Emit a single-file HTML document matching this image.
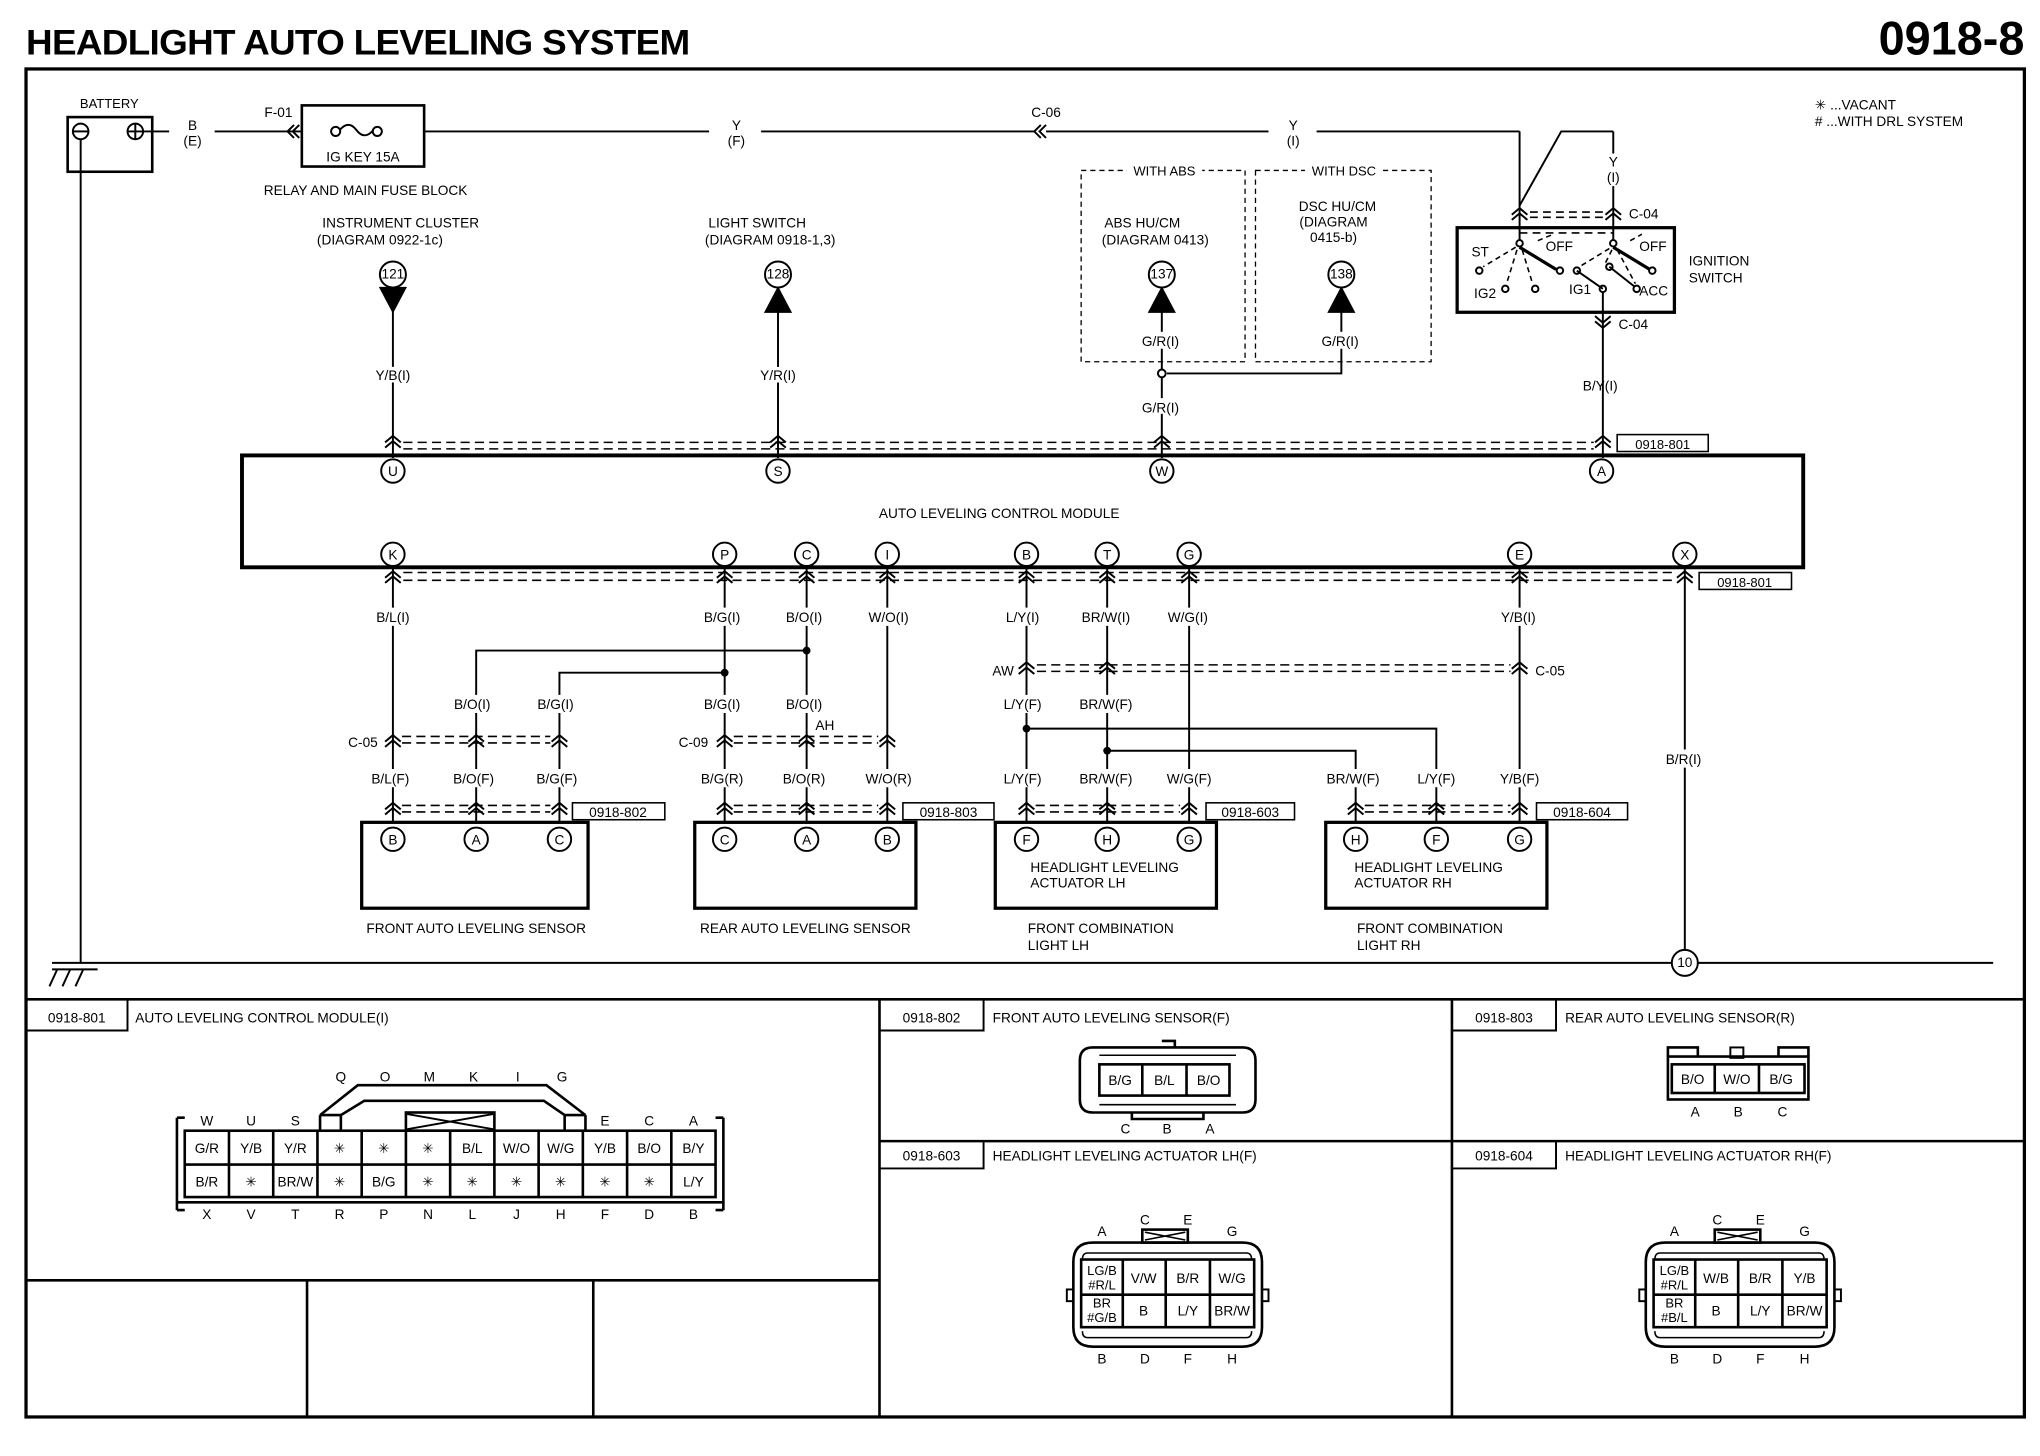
<!DOCTYPE html>
<html><head><meta charset="utf-8"><style>
html,body{margin:0;padding:0;background:#fff}
svg{display:block}
text{font-family:"Liberation Sans",Arial,sans-serif;font-size:10.5px;fill:#000}
.b{font-weight:bold}
.m{text-anchor:middle}
.e{text-anchor:end}
</style></head><body>
<svg width="2040" height="1456" viewBox="0 0 1568 1119" preserveAspectRatio="none" xmlns="http://www.w3.org/2000/svg">
<defs>
<path id="cu" d="M-6 2 L0 -3 L6 2 M-6 6 L0 1 L6 6" fill="none" stroke="#000" stroke-width="1.5"/>
<path id="cd" d="M-6 -2 L0 3 L6 -2 M-6 -6 L0 -1 L6 -6" fill="none" stroke="#000" stroke-width="1.5"/>
</defs>
<rect width="1568" height="1119" fill="#fff"/>
<text x="20" y="42" class="b" style="font-size:27px;letter-spacing:-0.5px" textLength="510" lengthAdjust="spacingAndGlyphs">HEADLIGHT AUTO LEVELING SYSTEM</text>
<text x="1556" y="42" class="b e" style="font-size:36px">0918-8</text>

<g fill="none" stroke="#000">
<rect x="20" y="53" width="1536" height="1036" stroke-width="2.5"/>
<line x1="20" y1="768" x2="1556" y2="768" stroke-width="2"/>
<line x1="676" y1="768" x2="676" y2="1089" stroke-width="2"/>
<line x1="1116" y1="768" x2="1116" y2="1089" stroke-width="2"/>
<line x1="676" y1="877" x2="1556" y2="877" stroke-width="2"/>
<line x1="20" y1="984" x2="676" y2="984" stroke-width="2"/>
<line x1="236" y1="984" x2="236" y2="1089" stroke-width="2"/>
<line x1="456" y1="984" x2="456" y2="1089" stroke-width="2"/>
<path d="M20 792 H98 V768 M676 792 H756 V768 M1116 792 H1196 V768 M676 898 H756 V877 M1116 898 H1196 V877" stroke-width="1.5"/>

<rect x="52" y="90" width="65" height="42" stroke-width="2"/>
<circle cx="62" cy="101" r="6" stroke-width="1.5"/><line x1="56" y1="101" x2="68" y2="101" stroke-width="1.5"/>
<circle cx="104" cy="101" r="6" stroke-width="1.5"/><path d="M98 101 H110 M104 95 V107" stroke-width="1.5"/>
<line x1="110" y1="101" x2="130" y2="101" stroke-width="1.5"/>
<line x1="62" y1="107" x2="62" y2="740" stroke-width="1.5"/>
<line x1="165" y1="101" x2="232" y2="101" stroke-width="1.5"/>
<path d="M226 96 L221 101 L226 106 M230 96 L225 101 L230 106" stroke-width="1.5"/>
<rect x="232" y="81" width="94" height="47" stroke-width="2"/>
<circle cx="258" cy="101" r="3.5" stroke-width="1.5"/><circle cx="290" cy="101" r="3.5" stroke-width="1.5"/>
<path d="M261 100 Q268 92 274 100 Q280 108 287 100" stroke-width="1.5"/>
<line x1="326" y1="101" x2="545" y2="101" stroke-width="1.5"/>
<line x1="585" y1="101" x2="795" y2="101" stroke-width="1.5"/>
<path d="M800 96 L795 101 L800 106 M804 96 L799 101 L804 106" stroke-width="1.5"/>
<line x1="804" y1="101" x2="975" y2="101" stroke-width="1.5"/>
<line x1="1012" y1="101" x2="1168" y2="101" stroke-width="1.5"/>
<line x1="1168" y1="101" x2="1168" y2="185" stroke-width="1.5"/>
<path d="M1240 101 H1200 L1168 158" stroke-width="1.5"/>
<line x1="1240" y1="101" x2="1240" y2="118" stroke-width="1.5"/>
<line x1="1240" y1="143" x2="1240" y2="185" stroke-width="1.5"/>
<use href="#cu" x="1168" y="163"/><use href="#cu" x="1240" y="163"/>
<path d="M1176 163 H1233 M1176 167 H1233" stroke-width="1.2" stroke-dasharray="6,4"/>
<rect x="1120" y="175" width="167" height="65" stroke-width="2.5"/>
<path d="M1168 179 H1240" stroke-width="1.2" stroke-dasharray="6,4"/>
<circle cx="1168" cy="187" r="2.5" stroke-width="1.5"/><circle cx="1240" cy="187" r="2.5" stroke-width="1.5"/>
<path d="M1168 190 L1196 207 M1240 190 L1268 207" stroke-width="2.5"/>
<circle cx="1199" cy="208" r="2.5" stroke-width="1.5"/><circle cx="1270" cy="208" r="2.5" stroke-width="1.5"/>
<circle cx="1137" cy="208" r="2.5" stroke-width="1.5"/><circle cx="1212" cy="208" r="2.5" stroke-width="1.5"/>
<circle cx="1157" cy="222" r="2.5" stroke-width="1.5"/><circle cx="1180" cy="222" r="2.5" stroke-width="1.5"/>
<circle cx="1232" cy="222" r="2.5" stroke-width="1.5"/><circle cx="1237" cy="205" r="2.5" stroke-width="1.5"/><circle cx="1258" cy="222" r="2.5" stroke-width="1.5"/>
<path d="M1212 208 L1232 222 M1237 205 L1256 220" stroke-width="1.5"/>
<path d="M1165 190 L1140 205 M1166 192 L1158 218 M1170 192 L1178 218 M1182 185 L1194 180 M1237 191 L1214 205 M1239 192 L1234 202 M1243 192 L1257 218 M1253 185 L1262 180" stroke-width="1.2" stroke-dasharray="4,3"/>
<line x1="1232" y1="225" x2="1232" y2="352" stroke-width="1.5"/>
<use href="#cd" x="1232" y="249"/>

<circle cx="302" cy="211" r="10" stroke-width="1.5"/>
<path d="M292 221 H312 L302 240 Z" fill="#000" stroke-width="1"/>
<line x1="302" y1="221" x2="302" y2="282" stroke-width="1.5"/><line x1="302" y1="294" x2="302" y2="352" stroke-width="1.5"/>
<circle cx="598" cy="211" r="10" stroke-width="1.5"/>
<path d="M588 240 H608 L598 221 Z" fill="#000" stroke-width="1"/>
<line x1="598" y1="240" x2="598" y2="282" stroke-width="1.5"/><line x1="598" y1="294" x2="598" y2="352" stroke-width="1.5"/>
<rect x="831" y="131" width="126" height="147" stroke-width="1" stroke-dasharray="4,3"/>
<rect x="965" y="131" width="135" height="147" stroke-width="1" stroke-dasharray="4,3"/>
<rect x="866" y="126" width="58" height="10" fill="#fff" stroke="none"/>
<rect x="1003" y="126" width="60" height="10" fill="#fff" stroke="none"/>
<circle cx="893" cy="211" r="10" stroke-width="1.5"/>
<path d="M883 240 H903 L893 221 Z" fill="#000"/>
<circle cx="1031" cy="211" r="10" stroke-width="1.5"/>
<path d="M1021 240 H1041 L1031 221 Z" fill="#000"/>
<line x1="893" y1="240" x2="893" y2="255" stroke-width="1.5"/><line x1="893" y1="268" x2="893" y2="306" stroke-width="1.5"/>
<line x1="893" y1="318" x2="893" y2="352" stroke-width="1.5"/>
<line x1="1031" y1="240" x2="1031" y2="255" stroke-width="1.5"/>
<path d="M1031 268 V287 H897" stroke-width="1.5"/>
<circle cx="893" cy="287" r="3" fill="#fff" stroke-width="1.5"/>
<use href="#cu" x="302" y="338"/><use href="#cu" x="598" y="338"/><use href="#cu" x="893" y="338"/><use href="#cu" x="1232" y="338"/>
<path d="M310 340 H1225 M310 345 H1225" stroke-width="1.2" stroke-dasharray="7,4"/>
<rect x="1243" y="334" width="70" height="13" stroke-width="1.2"/>
<rect x="186" y="350" width="1200" height="86" stroke-width="3"/>
<g stroke-width="1.5" fill="#fff">
<circle cx="302" cy="362" r="9"/><circle cx="598" cy="362" r="9"/><circle cx="893" cy="362" r="9"/><circle cx="1231" cy="362" r="9"/>
<circle cx="302" cy="426" r="9"/><circle cx="557" cy="426" r="9"/><circle cx="620" cy="426" r="9"/><circle cx="682" cy="426" r="9"/>
<circle cx="789" cy="426" r="9"/><circle cx="851" cy="426" r="9"/><circle cx="914" cy="426" r="9"/><circle cx="1168" cy="426" r="9"/><circle cx="1295" cy="426" r="9"/>
</g>
<path d="M310 440 H1288 M310 446 H1288" stroke-width="1.2" stroke-dasharray="7,4"/>
<rect x="1306" y="440" width="71" height="13" stroke-width="1.2"/>
<g stroke-width="1.5">
<path d="M302 436 V467 M302 481 V591 M302 605 V633"/>
<path d="M557 436 V467 M557 481 V534 M557 548 V591 M557 605 V633"/>
<path d="M620 436 V467 M620 481 V534 M620 548 V591 M620 605 V633"/>
<path d="M682 436 V467 M682 481 V591 M682 605 V633"/>
<path d="M789 436 V467 M789 481 V534 M789 548 V591 M789 605 V633"/>
<path d="M851 436 V467 M851 481 V534 M851 548 V591 M851 605 V633"/>
<path d="M914 436 V467 M914 481 V591 M914 605 V633"/>
<path d="M1168 436 V467 M1168 481 V591 M1168 605 V633"/>
<path d="M1295 436 V576 M1295 590 V730"/>
<path d="M620 500 H366 V534 M366 548 V591 M366 605 V633"/>
<path d="M557 517 H430 V534 M430 548 V591 M430 605 V633"/>
<path d="M789 560 H1104 V591 M1104 605 V633"/>
<path d="M851 577 H1042 V591 M1042 605 V633"/>
<path d="M40 740 H1285 M1305 740 H1532"/>
<path d="M40 745 H75 M44 745 L38 758 M54 745 L48 758 M64 745 L58 758"/>
</g>
<g fill="#000"><circle cx="620" cy="500" r="2.5"/><circle cx="557" cy="517" r="2.5"/><circle cx="789" cy="560" r="2.5"/><circle cx="851" cy="577" r="2.5"/></g>
<circle cx="1295" cy="740" r="10" stroke-width="1.5" fill="#fff"/>
<use href="#cu" x="302" y="442"/><use href="#cu" x="557" y="442"/><use href="#cu" x="620" y="442"/><use href="#cu" x="682" y="442"/><use href="#cu" x="789" y="442"/><use href="#cu" x="851" y="442"/><use href="#cu" x="914" y="442"/><use href="#cu" x="1168" y="442"/><use href="#cu" x="1295" y="442"/>
<use href="#cu" x="789" y="512"/><use href="#cu" x="851" y="512"/><use href="#cu" x="1168" y="512"/>
<path d="M797 511 H1161 M797 516 H1161" stroke-width="1.2" stroke-dasharray="7,4"/>
<use href="#cu" x="302" y="568"/><use href="#cu" x="366" y="568"/><use href="#cu" x="430" y="568"/>
<path d="M309 566 H423 M309 571 H423" stroke-width="1.2" stroke-dasharray="7,4"/>
<use href="#cu" x="557" y="568"/><use href="#cu" x="620" y="568"/><use href="#cu" x="682" y="568"/>
<path d="M564 566 H675 M564 571 H675" stroke-width="1.2" stroke-dasharray="7,4"/>
<use href="#cu" x="302" y="620"/><use href="#cu" x="366" y="620"/><use href="#cu" x="430" y="620"/>
<path d="M309 619 H423 M309 624 H423" stroke-width="1.2" stroke-dasharray="7,4"/>
<use href="#cu" x="557" y="620"/><use href="#cu" x="620" y="620"/><use href="#cu" x="682" y="620"/>
<path d="M564 619 H675 M564 624 H675" stroke-width="1.2" stroke-dasharray="7,4"/>
<use href="#cu" x="789" y="620"/><use href="#cu" x="851" y="620"/><use href="#cu" x="914" y="620"/>
<path d="M796 619 H907 M796 624 H907" stroke-width="1.2" stroke-dasharray="7,4"/>
<use href="#cu" x="1042" y="620"/><use href="#cu" x="1104" y="620"/><use href="#cu" x="1168" y="620"/>
<path d="M1049 619 H1161 M1049 624 H1161" stroke-width="1.2" stroke-dasharray="7,4"/>
<rect x="440" y="617" width="71" height="13" stroke-width="1.2"/>
<rect x="694" y="617" width="70" height="13" stroke-width="1.2"/>
<rect x="927" y="617" width="68" height="13" stroke-width="1.2"/>
<rect x="1181" y="617" width="70" height="13" stroke-width="1.2"/>
<rect x="278" y="632" width="174" height="66" stroke-width="2.5"/>
<rect x="534" y="632" width="170" height="66" stroke-width="2.5"/>
<rect x="765" y="632" width="170" height="66" stroke-width="2.5"/>
<rect x="1019" y="632" width="170" height="66" stroke-width="2.5"/>
<g stroke-width="1.5" fill="#fff">
<circle cx="302" cy="645" r="9"/><circle cx="366" cy="645" r="9"/><circle cx="430" cy="645" r="9"/>
<circle cx="557" cy="645" r="9"/><circle cx="620" cy="645" r="9"/><circle cx="682" cy="645" r="9"/>
<circle cx="789" cy="645" r="9"/><circle cx="851" cy="645" r="9"/><circle cx="914" cy="645" r="9"/>
<circle cx="1042" cy="645" r="9"/><circle cx="1104" cy="645" r="9"/><circle cx="1168" cy="645" r="9"/>
</g>

<g stroke-width="2">
<rect x="142" y="869" width="408" height="51"/>
<line x1="142" y1="895" x2="550" y2="895"/>
<path d="M136 859 V930 M142 859 H136 M136 930 H142 M556 859 V930 M550 859 H556 M556 930 H550"/>
<path d="M136 924 H556"/>
<path d="M176 869V920 M210 869V920 M244 869V920 M278 869V920 M312 869V920 M346 869V920 M380 869V920 M414 869V920 M448 869V920 M482 869V920 M516 869V920"/>
<path d="M246 857 L275 834 H420 L450 857 M246 857 V869 M450 857 V869 M262 857 V869 M434 857 V869 M262 857 L280 846 H418 L434 857 M246 857 H262 M434 857 H450"/>
<rect x="312" y="855" width="68" height="14"/>
<path d="M312 856 L380 868 M312 868 L380 856" stroke-width="1.5"/>
</g>
<g stroke-width="2">
<path d="M840 805 H955 Q965 805 965 815 V845 Q965 855 955 855 H840 Q830 855 830 845 V815 Q830 805 840 805 Z"/>
<path d="M845 811 H950 M845 849 H950" stroke-width="1.2"/>
<rect x="845" y="818" width="100" height="24"/>
<path d="M878 818V842 M912 818V842"/>
<path d="M870 855 V860 H925 V855 M893 800 H903 V805"/>
</g>
<g stroke-width="2">
<rect x="1282" y="812" width="108" height="33"/>
<rect x="1285" y="818" width="102" height="22"/>
<path d="M1318 818V840 M1352 818V840"/>
<path d="M1282 812 V805 H1305 V812 M1367 812 V805 H1390 V812"/>
<rect x="1330" y="805" width="10" height="8" stroke-width="1.5"/>
</g>
<g id="act" stroke-width="2">
<path d="M840 955 H955 Q970 955 970 970 V1020 Q970 1035 955 1035 H840 Q825 1035 825 1020 V970 Q825 955 840 955 Z"/>
<path d="M836 963 H958 Q962 963 962 968 M836 963 Q832 963 832 968 M836 1028 H958 Q962 1028 962 1023 M836 1028 Q832 1028 832 1023" stroke-width="1.2"/>
<rect x="831" y="968" width="133" height="52"/>
<path d="M831 995 H964 M863 968V1020 M896 968V1020 M930 968V1020"/>
<rect x="878" y="945" width="35" height="10"/>
<path d="M880 947 L911 953 M880 953 L911 947" stroke-width="1.2"/>
<rect x="820" y="991" width="5" height="9" stroke-width="1.5"/><rect x="970" y="991" width="5" height="9" stroke-width="1.5"/>
</g>
<use href="#act" x="440" y="0"/>
</g>

<text x="84" y="83" class="m" style="font-size:10px">BATTERY</text>
<text x="148" y="100" class="m">B</text><text x="148" y="112" class="m">(E)</text>
<text x="214" y="90" class="m">F-01</text>
<text x="279" y="124" class="m">IG KEY 15A</text>
<text x="281" y="150" class="m">RELAY AND MAIN FUSE BLOCK</text>
<text x="566" y="100" class="m">Y</text><text x="566" y="112" class="m">(F)</text>
<text x="804" y="90" class="m">C-06</text>
<text x="994" y="100" class="m">Y</text><text x="994" y="112" class="m">(I)</text>
<text x="1240" y="128" class="m">Y</text><text x="1240" y="140" class="m">(I)</text>
<text x="1252" y="168">C-04</text>
<text x="1244" y="253">C-04</text>
<text x="1131" y="197">ST</text><text x="1188" y="193">OFF</text><text x="1260" y="193">OFF</text>
<text x="1133" y="229">IG2</text><text x="1206" y="226">IG1</text><text x="1260" y="227">ACC</text>
<text x="1298" y="204">IGNITION</text><text x="1298" y="217">SWITCH</text>
<text x="1395" y="84">✳ ...VACANT</text><text x="1395" y="97"># ...WITH DRL SYSTEM</text>
<text x="308" y="175" class="m">INSTRUMENT CLUSTER</text><text x="292" y="188" class="m">(DIAGRAM 0922-1c)</text>
<text x="582" y="175" class="m">LIGHT SWITCH</text><text x="592" y="188" class="m">(DIAGRAM 0918-1,3)</text>
<g style="font-size:9px"><text x="302" y="214" class="m">121</text><text x="598" y="214" class="m">128</text><text x="893" y="214" class="m">137</text><text x="1031" y="214" class="m">138</text><text x="1295" y="743" class="m">10</text></g>
<text x="895" y="135" class="m" style="font-size:10px">WITH ABS</text><text x="1033" y="135" class="m" style="font-size:10px">WITH DSC</text>
<text x="878" y="175" class="m">ABS HU/CM</text><text x="888" y="188" class="m">(DIAGRAM 0413)</text>
<text x="1028" y="162" class="m">DSC HU/CM</text><text x="1025" y="174" class="m">(DIAGRAM</text><text x="1025" y="186" class="m">0415-b)</text>
<text x="892" y="266" class="m">G/R(I)</text><text x="1030" y="266" class="m">G/R(I)</text>
<text x="302" y="292" class="m">Y/B(I)</text><text x="598" y="292" class="m">Y/R(I)</text>
<text x="892" y="317" class="m">G/R(I)</text><text x="1230" y="300" class="m">B/Y(I)</text>
<text x="1278" y="345" class="m" style="font-size:10px">0918-801</text>
<text x="1341" y="451" class="m" style="font-size:10px">0918-801</text>
<g style="font-size:9.5px" class="m">
<text x="302" y="366" class="m">U</text><text x="598" y="366" class="m">S</text><text x="893" y="366" class="m">W</text><text x="1231" y="366" class="m">A</text>
<text x="302" y="430" class="m">K</text><text x="557" y="430" class="m">P</text><text x="620" y="430" class="m">C</text><text x="682" y="430" class="m">I</text><text x="789" y="430" class="m">B</text><text x="851" y="430" class="m">T</text><text x="914" y="430" class="m">G</text><text x="1168" y="430" class="m">E</text><text x="1295" y="430" class="m">X</text>
<text x="302" y="649" class="m">B</text><text x="366" y="649" class="m">A</text><text x="430" y="649" class="m">C</text>
<text x="557" y="649" class="m">C</text><text x="620" y="649" class="m">A</text><text x="682" y="649" class="m">B</text>
<text x="789" y="649" class="m">F</text><text x="851" y="649" class="m">H</text><text x="914" y="649" class="m">G</text>
<text x="1042" y="649" class="m">H</text><text x="1104" y="649" class="m">F</text><text x="1168" y="649" class="m">G</text>
</g>
<text x="768" y="398" class="m">AUTO LEVELING CONTROL MODULE</text>
<text x="302" y="478" class="m">B/L(I)</text><text x="555" y="478" class="m">B/G(I)</text><text x="618" y="478" class="m">B/O(I)</text><text x="683" y="478" class="m">W/O(I)</text>
<text x="786" y="478" class="m">L/Y(I)</text><text x="850" y="478" class="m">BR/W(I)</text><text x="913" y="478" class="m">W/G(I)</text><text x="1167" y="478" class="m">Y/B(I)</text>
<text x="771" y="519" class="m">AW</text><text x="1180" y="519">C-05</text>
<text x="363" y="545" class="m">B/O(I)</text><text x="427" y="545" class="m">B/G(I)</text><text x="555" y="545" class="m">B/G(I)</text><text x="618" y="545" class="m">B/O(I)</text>
<text x="786" y="545" class="m">L/Y(F)</text><text x="850" y="545" class="m">BR/W(F)</text>
<text x="634" y="561" class="m">AH</text>
<text x="279" y="574" class="m">C-05</text><text x="533" y="574" class="m">C-09</text>
<text x="1294" y="587" class="m">B/R(I)</text>
<text x="300" y="602" class="m">B/L(F)</text><text x="364" y="602" class="m">B/O(F)</text><text x="428" y="602" class="m">B/G(F)</text>
<text x="555" y="602" class="m">B/G(R)</text><text x="618" y="602" class="m">B/O(R)</text><text x="683" y="602" class="m">W/O(R)</text>
<text x="786" y="602" class="m">L/Y(F)</text><text x="850" y="602" class="m">BR/W(F)</text><text x="914" y="602" class="m">W/G(F)</text>
<text x="1040" y="602" class="m">BR/W(F)</text><text x="1104" y="602" class="m">L/Y(F)</text><text x="1168" y="602" class="m">Y/B(F)</text>
<g style="font-size:10px"><text x="475" y="628" class="m">0918-802</text><text x="729" y="628" class="m">0918-803</text><text x="961" y="628" class="m">0918-603</text><text x="1216" y="628" class="m">0918-604</text></g>
<text x="792" y="670">HEADLIGHT LEVELING</text><text x="792" y="682">ACTUATOR LH</text>
<text x="1041" y="670">HEADLIGHT LEVELING</text><text x="1041" y="682">ACTUATOR RH</text>
<text x="366" y="717" class="m">FRONT AUTO LEVELING SENSOR</text>
<text x="619" y="717" class="m">REAR AUTO LEVELING SENSOR</text>
<text x="790" y="717">FRONT COMBINATION</text><text x="790" y="730">LIGHT LH</text>
<text x="1043" y="717">FRONT COMBINATION</text><text x="1043" y="730">LIGHT RH</text>

<g style="font-size:10px">
<text x="59" y="786" class="m">0918-801</text><text x="104" y="786">AUTO LEVELING CONTROL MODULE(I)</text>
<text x="716" y="786" class="m">0918-802</text><text x="763" y="786">FRONT AUTO LEVELING SENSOR(F)</text>
<text x="1156" y="786" class="m">0918-803</text><text x="1203" y="786">REAR AUTO LEVELING SENSOR(R)</text>
<text x="716" y="892" class="m">0918-603</text><text x="763" y="892">HEADLIGHT LEVELING ACTUATOR LH(F)</text>
<text x="1156" y="892" class="m">0918-604</text><text x="1203" y="892">HEADLIGHT LEVELING ACTUATOR RH(F)</text>
</g>
<g class="m" style="font-size:10.5px">
<text x="159" y="865" class="m">W</text><text x="193" y="865" class="m">U</text><text x="227" y="865" class="m">S</text>
<text x="262" y="831" class="m">Q</text><text x="296" y="831" class="m">O</text><text x="330" y="831" class="m">M</text><text x="364" y="831" class="m">K</text><text x="398" y="831" class="m">I</text><text x="432" y="831" class="m">G</text>
<text x="465" y="865" class="m">E</text><text x="499" y="865" class="m">C</text><text x="533" y="865" class="m">A</text>
<text x="159" y="886" class="m">G/R</text><text x="193" y="886" class="m">Y/B</text><text x="227" y="886" class="m">Y/R</text><text x="261" y="886" class="m">✳</text><text x="295" y="886" class="m">✳</text><text x="329" y="886" class="m">✳</text><text x="363" y="886" class="m">B/L</text><text x="397" y="886" class="m">W/O</text><text x="431" y="886" class="m">W/G</text><text x="465" y="886" class="m">Y/B</text><text x="499" y="886" class="m">B/O</text><text x="533" y="886" class="m">B/Y</text>
<text x="159" y="912" class="m">B/R</text><text x="193" y="912" class="m">✳</text><text x="227" y="912" class="m">BR/W</text><text x="261" y="912" class="m">✳</text><text x="295" y="912" class="m">B/G</text><text x="329" y="912" class="m">✳</text><text x="363" y="912" class="m">✳</text><text x="397" y="912" class="m">✳</text><text x="431" y="912" class="m">✳</text><text x="465" y="912" class="m">✳</text><text x="499" y="912" class="m">✳</text><text x="533" y="912" class="m">L/Y</text>
<text x="159" y="937" class="m">X</text><text x="193" y="937" class="m">V</text><text x="227" y="937" class="m">T</text><text x="261" y="937" class="m">R</text><text x="295" y="937" class="m">P</text><text x="329" y="937" class="m">N</text><text x="363" y="937" class="m">L</text><text x="397" y="937" class="m">J</text><text x="431" y="937" class="m">H</text><text x="465" y="937" class="m">F</text><text x="499" y="937" class="m">D</text><text x="533" y="937" class="m">B</text>
<text x="861" y="834" class="m">B/G</text><text x="895" y="834" class="m">B/L</text><text x="929" y="834" class="m">B/O</text>
<text x="865" y="871" class="m">C</text><text x="897" y="871" class="m">B</text><text x="930" y="871" class="m">A</text>
<text x="1301" y="833" class="m">B/O</text><text x="1335" y="833" class="m">W/O</text><text x="1369" y="833" class="m">B/G</text>
<text x="1303" y="858" class="m">A</text><text x="1336" y="858" class="m">B</text><text x="1370" y="858" class="m">C</text>
<text x="847" y="950" class="m">A</text><text x="880" y="941" class="m">C</text><text x="913" y="941" class="m">E</text><text x="947" y="950" class="m">G</text>
<text x="847" y="980" class="m" style="font-size:10px">LG/B</text><text x="847" y="991" class="m" style="font-size:10px">#R/L</text>
<text x="879" y="986" class="m">V/W</text><text x="913" y="986" class="m">B/R</text><text x="947" y="986" class="m">W/G</text>
<text x="847" y="1005" class="m" style="font-size:10px">BR</text><text x="847" y="1016" class="m" style="font-size:10px">#G/B</text>
<text x="879" y="1011" class="m">B</text><text x="913" y="1011" class="m">L/Y</text><text x="947" y="1011" class="m">BR/W</text>
<text x="847" y="1048" class="m">B</text><text x="880" y="1048" class="m">D</text><text x="913" y="1048" class="m">F</text><text x="947" y="1048" class="m">H</text>
<text x="1287" y="950" class="m">A</text><text x="1320" y="941" class="m">C</text><text x="1353" y="941" class="m">E</text><text x="1387" y="950" class="m">G</text>
<text x="1287" y="980" class="m" style="font-size:10px">LG/B</text><text x="1287" y="991" class="m" style="font-size:10px">#R/L</text>
<text x="1319" y="986" class="m">W/B</text><text x="1353" y="986" class="m">B/R</text><text x="1387" y="986" class="m">Y/B</text>
<text x="1287" y="1005" class="m" style="font-size:10px">BR</text><text x="1287" y="1016" class="m" style="font-size:10px">#B/L</text>
<text x="1319" y="1011" class="m">B</text><text x="1353" y="1011" class="m">L/Y</text><text x="1387" y="1011" class="m">BR/W</text>
<text x="1287" y="1048" class="m">B</text><text x="1320" y="1048" class="m">D</text><text x="1353" y="1048" class="m">F</text><text x="1387" y="1048" class="m">H</text>
</g>
</svg>
</body></html>
